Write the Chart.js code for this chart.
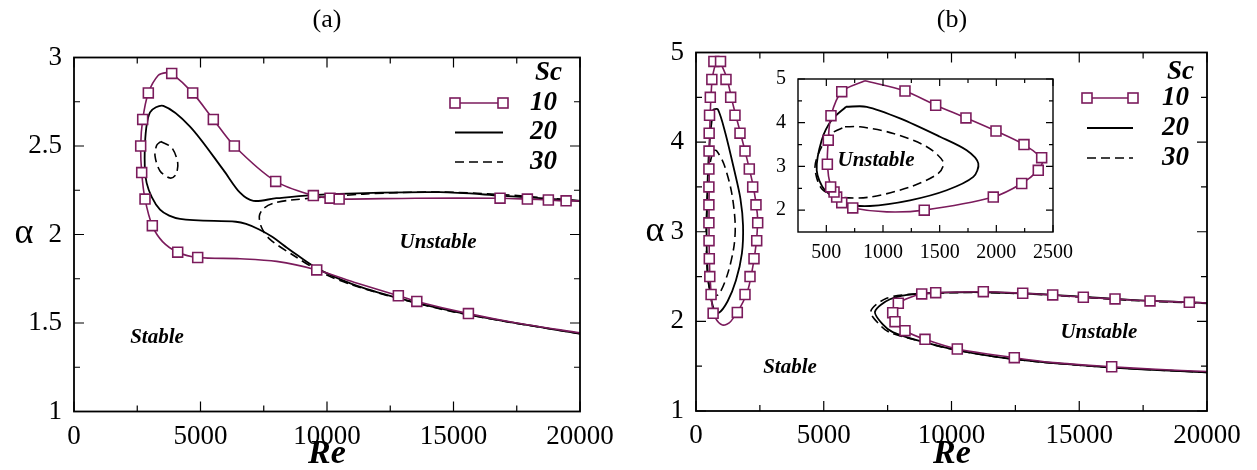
<!DOCTYPE html>
<html>
<head>
<meta charset="utf-8">
<script src="https://cdn.jsdelivr.net/npm/chart.js@4"></script>
<style>
  body { margin: 0; background: #fff; width: 1257px; height: 470px; position: relative; overflow: hidden; }
  canvas { position: absolute; }
</style>
</head>
<body>
<canvas id="chartA" width="628" height="470" style="left:0;top:0"></canvas>
<canvas id="chartB" width="629" height="470" style="left:628px;top:0"></canvas>
<canvas id="chartInset" width="330" height="215" style="left:750px;top:60px"></canvas>
<script>
// ---- data: [Re, alpha] ----
const scLabels = ["10", "20", "30"];

// panel (a)
const a_sc10_curve = [[20000,1.444],[17500,1.50],[15590,1.553],[13550,1.622],[12820,1.654],[11200,1.725],[9594,1.80],[8010,1.848],[6560,1.863],[4889,1.87],[4099,1.90],[3500,1.96],[3096,2.05],[2807,2.20],[2676,2.35],[2636,2.50],[2715,2.65],[2938,2.80],[3333,2.90],[3664,2.915],[3862,2.91],[4691,2.80],[5507,2.65],[6338,2.50],[7972,2.30],[9460,2.22],[10120,2.205],[10480,2.20],[13500,2.205],[16840,2.205],[17920,2.20],[18750,2.195],[19450,2.19],[20000,2.19]];
const a_sc10_marks = [[3862,2.91],[2938,2.80],[4691,2.80],[2715,2.65],[5507,2.65],[2636,2.50],[6338,2.50],[2676,2.35],[7972,2.30],[2807,2.20],[9460,2.22],[10120,2.205],[10480,2.20],[3096,2.05],[4099,1.90],[4889,1.87],[9594,1.80],[12820,1.654],[13550,1.622],[15590,1.553],[16840,2.205],[17920,2.20],[18750,2.195],[19450,2.19]];
const a_sc20_curve = [[20000,1.44],[17000,1.51],[15000,1.565],[12820,1.641],[11000,1.72],[9594,1.81],[8540,1.913],[7800,1.99],[7300,2.03],[6800,2.06],[6400,2.072],[4190,2.088],[3400,2.14],[2873,2.29],[2807,2.515],[3004,2.69],[3531,2.727],[4586,2.61],[5903,2.365],[6562,2.236],[7090,2.19],[8000,2.205],[10120,2.228],[14470,2.239],[16840,2.22],[20000,2.19]];
const a_sc30_loop = [[3427,2.525],[3862,2.491],[4099,2.406],[4032,2.340],[3795,2.319],[3400,2.359],[3202,2.444],[3269,2.504],[3427,2.525]];
const a_sc30_curve = [[20000,1.44],[17000,1.51],[15000,1.563],[12820,1.638],[11000,1.715],[9855,1.78],[8700,1.88],[7748,1.972],[7418,2.038],[7326,2.104],[7484,2.146],[7880,2.176],[8540,2.194],[11436,2.228],[14340,2.24],[17000,2.225],[20000,2.19]];

// panel (b), low-Re loop (also shown in the inset)
const b_sc10_loop = [[841,4.96],[1194,4.725],[1465,4.40],[1732,4.11],[1997,3.81],[2244,3.50],[2400,3.20],[2409,3.10],[2370,2.91],[2224,2.61],[1973,2.30],[1364,2.00],[1033,1.96],[733,2.05],[636,2.17],[591,2.30],[568,2.415],[538,2.53],[509,3.05],[517,3.60],[541,4.16],[636,4.71],[841,4.96]];
const b_sc10_loop_marks = [[700,4.9],[960,4.9],[620,4.7],[1174,4.7],[560,4.5],[1357,4.5],[530,4.3],[1526,4.3],[515,4.1],[1722,4.1],[510,3.9],[1918,3.9],[505,3.7],[2086,3.7],[505,3.5],[2219,3.5],[505,3.3],[2348,3.3],[505,3.1],[2415,3.1],[510,2.9],[2376,2.9],[520,2.7],[2270,2.7],[540,2.5],[2114,2.5],[590,2.3],[1918,2.3],[670,2.09],[1617,2.1]];
const b_sc20_loop = [[674,4.365],[856,4.365],[1150,4.10],[1503,3.68],[1738,3.37],[1841,3.07],[1797,2.76],[1562,2.455],[1238,2.225],[885,2.095],[680,2.15],[488,2.455],[415,2.91],[459,3.60],[547,4.06],[674,4.365]];
const b_sc30_loop = [[665,3.906],[797,3.906],[1091,3.755],[1386,3.45],[1532,3.10],[1488,2.84],[1238,2.53],[885,2.30],[621,2.30],[459,2.49],[400,2.99],[459,3.45],[547,3.755],[665,3.906]];

// panel (b), high-Re branch
const b_sc10_curve = [[20000,1.44],[18000,1.465],[16270,1.494],[14000,1.54],[12458,1.595],[10227,1.692],[8963,1.80],[8180,1.896],[7789,1.997],[7698,2.097],[7918,2.202],[8400,2.27],[8834,2.306],[9382,2.32],[11245,2.331],[12787,2.314],[13961,2.295],[15159,2.269],[16400,2.25],[17770,2.228],[19308,2.213],[20000,2.205]];
const b_sc10_marks = [[8834,2.306],[9382,2.32],[11245,2.331],[12787,2.314],[13961,2.295],[15159,2.269],[16400,2.25],[17770,2.228],[19308,2.213],[7918,2.202],[7698,2.097],[7789,1.997],[8180,1.896],[8963,1.80],[10227,1.692],[12458,1.595],[16270,1.494]];
const b_sc20_curve = [[20000,1.43],[16000,1.49],[12550,1.575],[10200,1.68],[8637,1.79],[7700,1.88],[7331,1.96],[7006,2.108],[7593,2.247],[8637,2.306],[11245,2.325],[14000,2.295],[17000,2.24],[20000,2.205]];
const b_sc30_curve = [[20000,1.43],[16000,1.49],[12550,1.574],[10200,1.678],[8637,1.788],[7600,1.875],[7268,1.94],[6838,2.108],[7463,2.258],[8637,2.305],[11245,2.322],[14000,2.29],[17000,2.235],[20000,2.2]];

// inset markers
const inset_sc10_marks = [[636,4.71],[1194,4.725],[1465,4.40],[1732,4.11],[1997,3.81],[2244,3.50],[2400,3.20],[2370,2.91],[2224,2.61],[1973,2.30],[1364,2.00],[733,2.05],[636,2.17],[591,2.30],[568,2.415],[538,2.53],[509,3.05],[517,3.60],[541,4.16]];

// ticks
const reTicks = [0, 5000, 10000, 15000, 20000];
const reMinor = [2500, 7500, 12500, 17500];
const aAlphaTicks = [1, 1.5, 2, 2.5, 3];
const aAlphaMinor = [1.25, 1.75, 2.25, 2.75];
const bAlphaTicks = [1, 2, 3, 4, 5];
const bAlphaMinor = [1.5, 2.5, 3.5, 4.5];
const insetReTicks = [500, 1000, 1500, 2000, 2500];
const insetReMinor = [750, 1250, 1750, 2250];
const insetAlphaTicks = [2, 3, 4, 5];
const insetAlphaMinor = [2.5, 3.5, 4.5];

const maroon = "#7b1b5c";
const serif = '"Liberation Serif", "Times New Roman", serif';

function pts(arr) {
  return arr.map(p => ({ x: p[0], y: p[1] }));
}
function curve(arr, color, width, dash) {
  return { data: pts(arr), showLine: true, borderColor: color, borderWidth: width, borderDash: dash || [],
           pointRadius: 0, tension: 0.3, fill: false };
}
function marks(arr) {
  return { data: pts(arr), showLine: false, pointStyle: "rect", pointRadius: 7,
           pointBackgroundColor: "#fff", pointBorderColor: maroon, pointBorderWidth: 1.6 };
}

function axis(min, max, vals, size, fit, horizontal, pad) {
  return {
    type: "linear", min: min, max: max,
    grid: { display: false }, border: { display: false },
    afterBuildTicks: s => { s.ticks = vals.map(v => ({ value: v })); },
    afterFit: s => { if (horizontal) s.height = fit; else s.width = fit; },
    ticks: { autoSkip: false, maxRotation: 0, color: "#000", padding: pad,
             font: { family: serif, size: size }, callback: v => String(v) }
  };
}

const decor = {
  id: "decor",
  beforeDraw(chart, args, o) {
    if (!o.fill) return;
    const { ctx, chartArea: a } = chart;
    ctx.save();
    ctx.fillStyle = "#fff";
    ctx.fillRect(a.left, a.top, a.right - a.left, a.bottom - a.top);
    ctx.restore();
  },
  afterDraw(chart, args, o) {
    const { ctx, chartArea: a } = chart;
    const sx = chart.scales.x, sy = chart.scales.y;
    ctx.save();
    ctx.strokeStyle = "#000";
    ctx.lineWidth = 1.2;
    ctx.beginPath();
    const xt = (vals, len) => vals.forEach(v => {
      const p = sx.getPixelForValue(v);
      ctx.moveTo(p, a.bottom); ctx.lineTo(p, a.bottom - len);
      ctx.moveTo(p, a.top); ctx.lineTo(p, a.top + len);
    });
    const yt = (vals, len) => vals.forEach(v => {
      const p = sy.getPixelForValue(v);
      ctx.moveTo(a.left, p); ctx.lineTo(a.left + len, p);
      ctx.moveTo(a.right, p); ctx.lineTo(a.right - len, p);
    });
    xt(o.xMajor, o.major); xt(o.xMinor, o.minor);
    yt(o.yMajor, o.major); yt(o.yMinor, o.minor);
    ctx.stroke();
    ctx.lineWidth = o.frame;
    ctx.strokeRect(a.left, a.top, a.right - a.left, a.bottom - a.top);

    ctx.fillStyle = "#000";
    ctx.textBaseline = "middle";
    (o.texts || []).forEach(t => {
      ctx.font = t.font;
      ctx.textAlign = t.align || "center";
      const px = t.data ? sx.getPixelForValue(t.x) : t.x;
      const py = t.data ? sy.getPixelForValue(t.y) : t.y;
      ctx.fillText(t.text, px, py);
    });

    const lg = o.legend;
    if (lg) {
      ctx.font = "bold italic 27px " + serif;
      ctx.textAlign = "left";
      ctx.fillText("Sc", a.right - lg.sc, a.top + lg.scY);
      const styles = [
        { c: maroon, w: 1.6, d: [] },
        { c: "#000", w: 1.8, d: [] },
        { c: "#000", w: 1.6, d: [9, 5] }
      ];
      styles.forEach((s, i) => {
        const y = a.top + lg.y0 + i * lg.dy;
        const x1 = a.right - lg.x1, x2 = a.right - lg.x2;
        ctx.strokeStyle = s.c; ctx.lineWidth = s.w; ctx.setLineDash(s.d);
        ctx.beginPath(); ctx.moveTo(x1, y); ctx.lineTo(x2, y); ctx.stroke();
        ctx.setLineDash([]);
        if (i === 0) {
          [x1, x2].forEach(x => {
            ctx.fillStyle = "#fff";
            ctx.fillRect(x - 5, y - 5, 10, 10);
            ctx.strokeStyle = maroon; ctx.lineWidth = 1.6;
            ctx.strokeRect(x - 5, y - 5, 10, 10);
          });
        }
        ctx.fillStyle = "#000";
        ctx.fillText(scLabels[i], a.right - lg.tx, y);
      });
    }
    ctx.restore();
  }
};

const annFont = "bold italic 21px " + serif;
const base = { responsive: false, animation: false, events: [], devicePixelRatio: 1 };

new Chart(document.getElementById("chartA"), {
  type: "scatter",
  data: { datasets: [
    marks(a_sc10_marks),
    curve(a_sc10_curve, maroon, 1.6),
    curve(a_sc20_curve, "#000", 1.8),
    curve(a_sc30_loop, "#000", 1.6, [9, 5]),
    curve(a_sc30_curve, "#000", 1.6, [9, 5])
  ] },
  options: Object.assign({}, base, {
    layout: { padding: { left: 0, top: 57.5, right: 48, bottom: 0 } },
    scales: {
      x: axis(0, 20000, reTicks, 27, 58.5, true, 1),
      y: axis(1, 3, aAlphaTicks, 27, 74, false, 4)
    },
    plugins: {
      legend: { display: false }, tooltip: { enabled: false },
      decor: {
        xMajor: reTicks, xMinor: reMinor, yMajor: aAlphaTicks, yMinor: aAlphaMinor,
        major: 10, minor: 6, frame: 1.8,
        legend: { sc: 45, scY: 15.5, y0: 45.5, dy: 29.5, x1: 125, x2: 77, tx: 50 },
        texts: [
          { text: "(a)", x: 327, y: 20, font: "26px " + serif },
          { text: "α", x: 24, y: 234, font: "36px " + serif },
          { text: "Re", x: 327, y: 454, font: "bold italic 34px " + serif },
          { text: "Stable", data: true, x: 3281, y: 1.416, font: annFont },
          { text: "Unstable", data: true, x: 14390, y: 1.955, font: annFont }
        ]
      }
    }
  }),
  plugins: [decor]
});

new Chart(document.getElementById("chartB"), {
  type: "scatter",
  data: { datasets: [
    marks(b_sc10_loop_marks),
    marks(b_sc10_marks),
    curve(b_sc10_loop, maroon, 1.6),
    curve(b_sc10_curve, maroon, 1.6),
    curve(b_sc20_loop, "#000", 1.8),
    curve(b_sc20_curve, "#000", 1.8),
    curve(b_sc30_loop, "#000", 1.6, [9, 5]),
    curve(b_sc30_curve, "#000", 1.6, [9, 5])
  ] },
  options: Object.assign({}, base, {
    layout: { padding: { left: 0, top: 52.5, right: 50, bottom: 0 } },
    scales: {
      x: axis(0, 20000, reTicks, 27, 59, true, 1),
      y: axis(1, 5, bAlphaTicks, 27, 68, false, 4)
    },
    plugins: {
      legend: { display: false }, tooltip: { enabled: false },
      decor: {
        xMajor: reTicks, xMinor: reMinor, yMajor: bAlphaTicks, yMinor: bAlphaMinor,
        major: 10, minor: 6, frame: 1.8,
        legend: { sc: 40, scY: 19.5, y0: 45.5, dy: 30, x1: 120, x2: 74, tx: 45 },
        texts: [
          { text: "(b)", x: 324, y: 20, font: "26px " + serif },
          { text: "α", x: 27, y: 232, font: "36px " + serif },
          { text: "Re", x: 324, y: 454, font: "bold italic 34px " + serif },
          { text: "Stable", data: true, x: 3680, y: 1.48, font: annFont },
          { text: "Unstable", data: true, x: 15770, y: 1.88, font: annFont }
        ]
      }
    }
  }),
  plugins: [decor]
});

new Chart(document.getElementById("chartInset"), {
  type: "scatter",
  data: { datasets: [
    marks(inset_sc10_marks),
    curve(b_sc10_loop, maroon, 1.6),
    curve(b_sc20_loop, "#000", 1.8),
    curve(b_sc30_loop, "#000", 1.6, [9, 5])
  ] },
  options: Object.assign({}, base, {
    layout: { padding: { left: 0, top: 19, right: 27, bottom: 0 } },
    scales: {
      x: axis(250, 2500, insetReTicks, 20, 43, true, 1),
      y: axis(1.5, 5, insetAlphaTicks, 20, 48, false, 4)
    },
    plugins: {
      legend: { display: false }, tooltip: { enabled: false },
      decor: {
        fill: true,
        xMajor: insetReTicks, xMinor: insetReMinor, yMajor: insetAlphaTicks, yMinor: insetAlphaMinor,
        major: 7, minor: 4, frame: 1.4,
        texts: [
          { text: "Unstable", data: true, x: 938, y: 3.14, font: annFont }
        ]
      }
    }
  }),
  plugins: [decor]
});
</script>
</body>
</html>
